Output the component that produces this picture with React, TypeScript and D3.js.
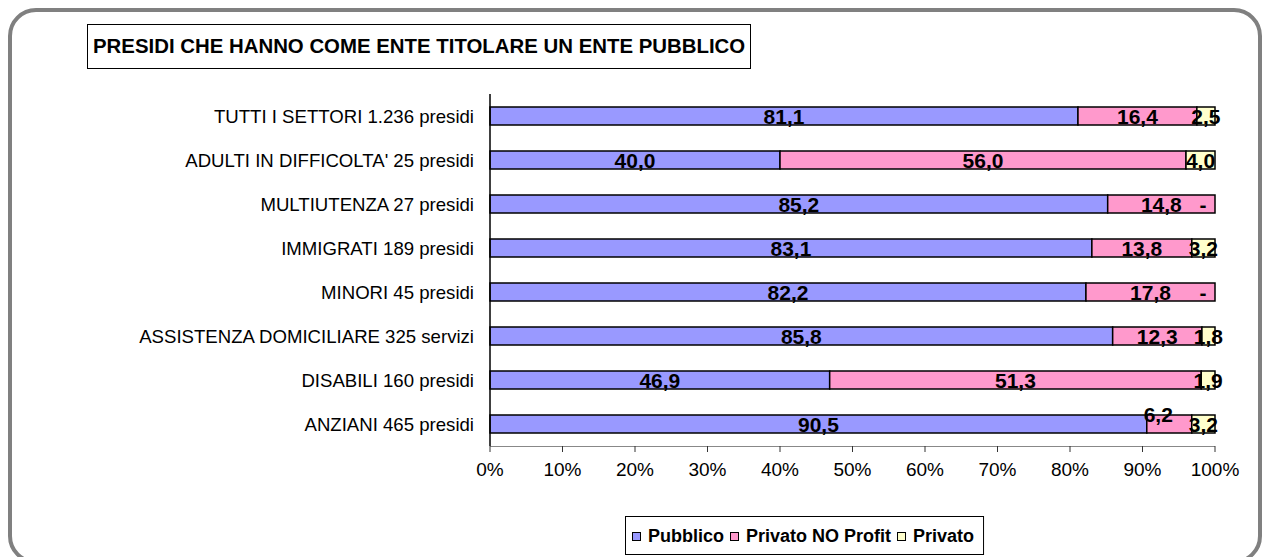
import React from "react";
import * as d3 from "d3";

const categories = [
  "TUTTI I SETTORI 1.236 presidi",
  "ADULTI IN DIFFICOLTA' 25 presidi",
  "MULTIUTENZA 27 presidi",
  "IMMIGRATI 189 presidi",
  "MINORI 45 presidi",
  "ASSISTENZA DOMICILIARE 325 servizi",
  "DISABILI 160 presidi",
  "ANZIANI 465 presidi",
];
const pubblico = [81.1, 40.0, 85.2, 83.1, 82.2, 85.8, 46.9, 90.5];
const privatoNoProfit = [16.4, 56.0, 14.8, 13.8, 17.8, 12.3, 51.3, 6.2];
const privato = [2.5, 4.0, 0, 3.2, 0, 1.8, 1.9, 3.2];
const seriesNames = ["Pubblico", "Privato NO Profit", "Privato"];
const seriesColors = ["#9999FF", "#FF99CC", "#FFFFCC"];
const xTicks = [0, 0.1, 0.2, 0.3, 0.4, 0.5, 0.6, 0.7, 0.8, 0.9, 1.0];
const title = "PRESIDI CHE HANNO COME ENTE TITOLARE UN ENTE PUBBLICO";

const FONT = "'Liberation Sans', Arial, sans-serif";

function measure(text: string, font: string): number {
  const c = document.createElement("canvas");
  const ctx = c.getContext("2d");
  if (!ctx) return text.length * 10;
  ctx.font = font;
  return ctx.measureText(text).width;
}

export default function App() {
  const W = 1263, H = 557;
  const x = d3.scaleLinear().domain([0, 1]).range([490, 1215]);
  const y = d3.scaleBand().domain(categories).range([94, 446]).paddingInner(26 / 44).paddingOuter(13 / 44);
  const rows = categories.map((c, i) => ({ cat: c, s0: pubblico[i], s1: privatoNoProfit[i], s2: privato[i] }));
  const stack = d3.stack<any>().keys(["s0", "s1", "s2"]).offset(d3.stackOffsetExpand);
  const stacked = stack(rows);
  const bh = y.bandwidth();
  const fmt = (v: number) => (v === 0 ? "-" : d3.format(".1f")(v).replace(".", ","));
  const values = [pubblico, privatoNoProfit, privato];

  const legendFont = 18;
  const legendItems: { name: string; color: string; mx: number; tx: number }[] = [];
  let lx = 632;
  seriesNames.forEach((n, i) => {
    const tw = measure(n, `bold ${legendFont}px 'Liberation Sans'`);
    legendItems.push({ name: n, color: seriesColors[i], mx: lx, tx: lx + 16 });
    lx += 16 + tw + 6;
  });
  const legendRight = lx + 3;

  return (
    <svg width={W} height={H} style={{ position: "absolute", left: 0, top: 0, background: "#fff" }} fontFamily={FONT}>
      <rect x={10} y={10} width={1250} height={552} rx={26} ry={26} fill="#fff" stroke="#808080" strokeWidth={4} />
      {/* title */}
      <rect x={87.5} y={24.5} width={663} height={44} fill="#fff" stroke="#000" strokeWidth={1} />
      <text x={93} y={53} fontSize={20.4} fontWeight="bold" fill="#000">{title}</text>

      {/* category labels */}
      {categories.map((c) => (
        <text key={c} x={474} y={(y(c) as number) + bh / 2} textAnchor="end" dominantBaseline="central" fontSize={18.6} fill="#000">
          {c}
        </text>
      ))}

      {/* bars */}
      {stacked.map((layer, si) =>
        layer.map((d, i) => (
          <rect
            key={si + "-" + i}
            x={x(d[0])}
            y={y(categories[i]) as number}
            width={Math.max(0, x(d[1]) - x(d[0]))}
            height={bh}
            fill={seriesColors[si]}
            stroke="#000"
            strokeWidth={1.5}
          />
        ))
      )}

      {/* axes */}
      <line x1={490} x2={490} y1={94} y2={446} stroke="#000" strokeWidth={1.5} />
      <line x1={490} x2={1215} y1={446.5} y2={446.5} stroke="#888" strokeWidth={1} />
      {xTicks.map((t) => (
        <g key={t}>
          <line x1={x(t)} x2={x(t)} y1={446} y2={452} stroke="#333" strokeWidth={1} />
          <text x={x(t)} y={469} textAnchor="middle" dominantBaseline="central" fontSize={19} fill="#000">
            {d3.format(".0%")(t)}
          </text>
        </g>
      ))}

      {/* value labels */}
      {stacked.map((layer, si) =>
        layer.map((d, i) => {
          const v = values[si][i];
          let cx = (x(d[0]) + x(d[1])) / 2;
          let cy = (y(categories[i]) as number) + bh / 2;
          if (v === 0) cx = x(1) - 12;
          if (si === 1 && i === 7) { cx -= 11; cy -= 10; }
          return (
            <text key={"l" + si + "-" + i} x={cx} y={cy} textAnchor="middle" dominantBaseline="central" fontSize={21} fontWeight="bold" fill="#000">
              {fmt(v)}
            </text>
          );
        })
      )}

      {/* legend */}
      <rect x={625.5} y={516.5} width={legendRight - 625} height={38} fill="#fff" stroke="#000" strokeWidth={1} />
      {legendItems.map((it) => (
        <g key={it.name}>
          <rect x={it.mx + 0.5} y={532.5} width={8} height={8} fill={it.color} stroke="#000" strokeWidth={1} />
          <text x={it.tx} y={536} dominantBaseline="central" fontSize={legendFont} fontWeight="bold" fill="#000">{it.name}</text>
        </g>
      ))}
    </svg>
  );
}
